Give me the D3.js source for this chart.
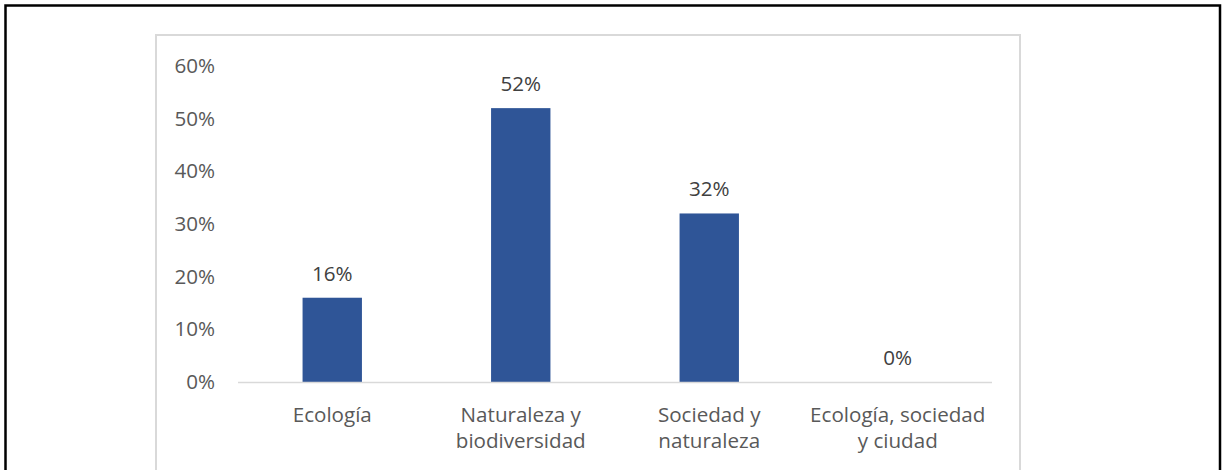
<!DOCTYPE html>
<html>
<head>
<meta charset="utf-8">
<script src="https://cdn.jsdelivr.net/npm/d3@7"></script>
<style>
  html, body { margin: 0; padding: 0; background: #fff; }
  svg { display: block; }
</style>
</head>
<body>
<svg width="1223" height="470"></svg>
<script>
const categories = [
  ['Ecología'],
  ['Naturaleza y', 'biodiversidad'],
  ['Sociedad y', 'naturaleza'],
  ['Ecología, sociedad', 'y ciudad']
];
const values = [0.16, 0.52, 0.32, 0];
const yTicks = [0, 0.1, 0.2, 0.3, 0.4, 0.5, 0.6];

const svg = d3.select('svg');
const width = +svg.attr('width');
const height = +svg.attr('height');
const font = '"Open Sans", sans-serif';
const fontSize = 20.6;
const textColor = '#595959';

// outer black frame (bottom edge is cut off in the picture)
svg.append('path')
  .attr('d', `M5.5,${height + 5} V5.5 H1220 V${height + 5}`)
  .attr('fill', 'none')
  .attr('stroke', '#000')
  .attr('stroke-width', 2.5);

// chart area frame
svg.append('path')
  .attr('d', `M156,${height + 5} V35 H1020 V${height + 5}`)
  .attr('fill', 'none')
  .attr('stroke', '#d9d9d9')
  .attr('stroke-width', 2);

const margin = {left: 238, top: 66, right: 231, bottom: 88};
const innerWidth = width - margin.left - margin.right;
const innerHeight = height - margin.top - margin.bottom;

const data = categories.map((c, i) => ({label: c, value: values[i]}));

const xScale = d3.scaleBand()
  .domain(d3.range(categories.length))
  .range([0, innerWidth])
  .paddingInner(0.685)
  .paddingOuter(0.3425);
const yScale = d3.scaleLinear()
  .domain([0, 0.6])
  .range([innerHeight, 0]);

const g = svg.append('g')
  .attr('transform', `translate(${margin.left},${margin.top})`);

// y axis labels only
const yAxis = g.append('g')
  .call(d3.axisLeft(yScale).tickValues(yTicks).tickFormat(d3.format('.0%')).tickSize(0).tickPadding(23));
yAxis.select('.domain').remove();
yAxis.selectAll('text')
  .attr('font-family', font)
  .attr('font-size', fontSize)
  .attr('fill', textColor);

g.selectAll('rect').data(data)
  .enter().append('rect')
  .attr('x', (d, i) => xScale(i))
  .attr('y', d => yScale(d.value))
  .attr('width', xScale.bandwidth())
  .attr('height', d => innerHeight - yScale(d.value))
  .attr('fill', '#2F5597');

// baseline
g.append('line')
  .attr('x1', 0).attr('x2', innerWidth)
  .attr('y1', innerHeight + 0.5).attr('y2', innerHeight + 0.5)
  .attr('stroke', '#d9d9d9')
  .attr('stroke-width', 1.5);

// value labels
g.selectAll('.val').data(data)
  .enter().append('text')
  .attr('class', 'val')
  .attr('x', (d, i) => xScale(i) + xScale.bandwidth() / 2)
  .attr('y', d => yScale(d.value) - 17)
  .attr('text-anchor', 'middle')
  .attr('font-family', font)
  .attr('font-size', fontSize)
  .attr('fill', '#404040')
  .text(d => d3.format('.0%')(d.value));

// category labels
const cat = g.selectAll('.cat').data(data)
  .enter().append('text')
  .attr('class', 'cat')
  .attr('text-anchor', 'middle')
  .attr('font-family', font)
  .attr('font-size', fontSize)
  .attr('fill', textColor);
cat.selectAll('tspan').data((d, i) => d.label.map(l => ({l, i})))
  .enter().append('tspan')
  .attr('x', d => xScale(d.i) + xScale.bandwidth() / 2)
  .attr('y', (d, j) => innerHeight + 40 + j * 26)
  .text(d => d.l);
</script>
</body>
</html>
